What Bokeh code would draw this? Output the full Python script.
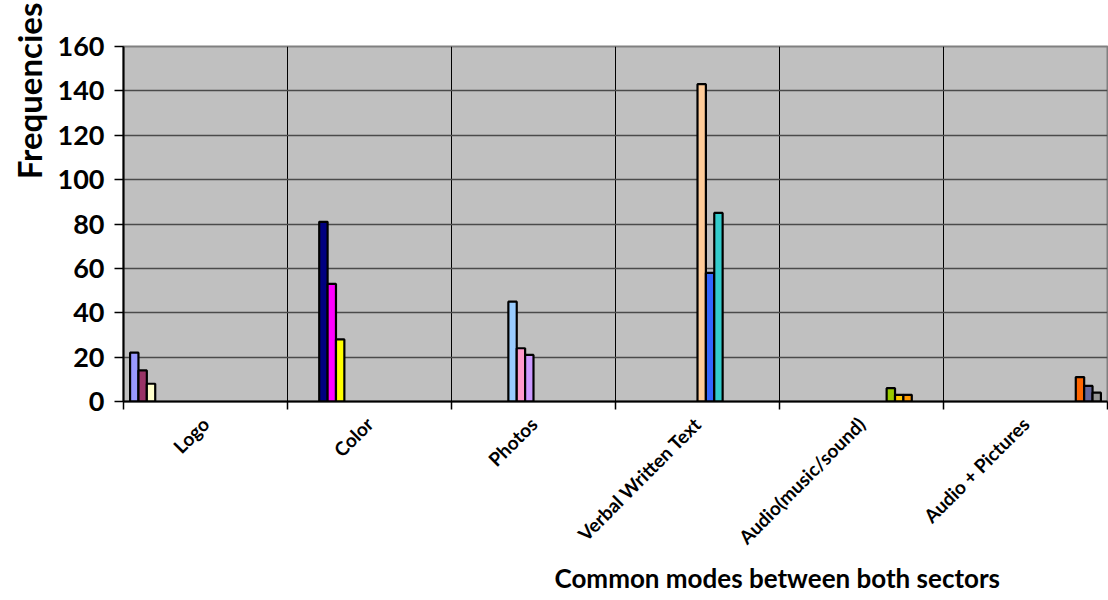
import math
from bokeh.plotting import figure
from bokeh.models import Range1d, FixedTicker, Title, ColumnDataSource
from bokeh.embed import file_html
from bokeh.resources import INLINE

# Common communication modes, three bars per mode
categories = ["Logo", "Color", "Photos", "Verbal Written Text",
              "Audio(music/sound)", "Audio + Pictures"]
first_bar = [22, 81, 45, 143, 6, 11]
second_bar = [14, 53, 24, 58, 3, 7]
third_bar = [8, 28, 21, 85, 3, 4]
first_colors = ["#9999FF", "#000080", "#99CCFF", "#FFCC99", "#99CC00", "#FF6600"]
second_colors = ["#993366", "#FF00FF", "#FF99CC", "#3366FF", "#FFCC00", "#666699"]
third_colors = ["#FFFFCC", "#FFFF00", "#CC99FF", "#33CCCC", "#FF9900", "#969696"]
y_ticks = [0, 20, 40, 60, 80, 100, 120, 140, 160]

n_cat = len(categories)
n_slots = 3 * n_cat            # every bar owns its own slot across the group
slot_w = 0.0511
pad = (1 - n_slots * slot_w) / 2

xs, tops, fills = [], [], []
for k in range(n_cat):
    for j, (vals, cols) in enumerate(((first_bar, first_colors),
                                      (second_bar, second_colors),
                                      (third_bar, third_colors))):
        slot = 3 * k + j
        xs.append(k + pad + (slot + 0.5) * slot_w)
        tops.append(vals[k])
        fills.append(cols[k])

src = ColumnDataSource(dict(x=xs, top=tops, color=fills))

p = figure(width=1108, height=600, output_backend="svg", toolbar_location=None,
           x_range=Range1d(0, n_cat), y_range=Range1d(0, 160),
           min_border_left=122, min_border_right=1, min_border_top=46,
           min_border_bottom=199)
p.outline_line_color = "#808080"
p.outline_line_width = 2
p.background_fill_color = "#C0C0C0"
p.border_fill_color = "white"

p.vbar(x="x", top="top", width=slot_w, bottom=0, source=src,
       fill_color="color", line_color="black", line_width=2.2)

font = "Lato"

# x axis: labels at group centres, tick marks at group boundaries
centers = [k + 0.5 for k in range(n_cat)]
p.xaxis.ticker = FixedTicker(ticks=centers, minor_ticks=list(range(n_cat + 1)))
p.xaxis.major_label_overrides = {c: name for c, name in zip(centers, categories)}
p.xaxis.major_tick_line_color = None
p.xaxis.minor_tick_line_color = "black"
p.xaxis.minor_tick_line_width = 1.5
p.xaxis.minor_tick_in = 0
p.xaxis.minor_tick_out = 8
p.xaxis.axis_line_color = "black"
p.xaxis.axis_line_width = 2
p.xaxis.major_label_orientation = math.pi / 4
p.xaxis.major_label_text_font = font
p.xaxis.major_label_text_font_style = "bold"
p.xaxis.major_label_text_font_size = "19px"
p.xaxis.major_label_text_color = "black"
p.xaxis.major_label_standoff = 11

p.yaxis.ticker = FixedTicker(ticks=y_ticks)
p.yaxis.minor_tick_line_color = None
p.yaxis.major_tick_line_color = "black"
p.yaxis.major_tick_line_width = 1.5
p.yaxis.major_tick_in = 0
p.yaxis.major_tick_out = 9
p.yaxis.axis_line_color = "black"
p.yaxis.axis_line_width = 2
p.yaxis.major_label_text_font = font
p.yaxis.major_label_text_font_style = "bold"
p.yaxis.major_label_text_font_size = "27px"
p.yaxis.major_label_text_color = "black"
p.yaxis.major_label_standoff = 10

p.xgrid.ticker = FixedTicker(ticks=list(range(1, n_cat)))
p.xgrid.grid_line_color = "black"
p.xgrid.grid_line_width = 1
p.ygrid.ticker = FixedTicker(ticks=y_ticks[1:])
p.ygrid.grid_line_color = "#4a4a4a"
p.ygrid.grid_line_width = 1.5

p.add_layout(Title(text="Common modes between both sectors", align="left",
                   offset=431, text_font=font, text_font_style="bold",
                   text_font_size="26px", text_color="black", standoff=0), "below")
p.add_layout(Title(text="Frequencies", align="right", offset=-44,
                   text_font=font, text_font_style="bold",
                   text_font_size="33px", text_color="black", standoff=12), "left")

open("out.html", "w").write(file_html(p, INLINE))
